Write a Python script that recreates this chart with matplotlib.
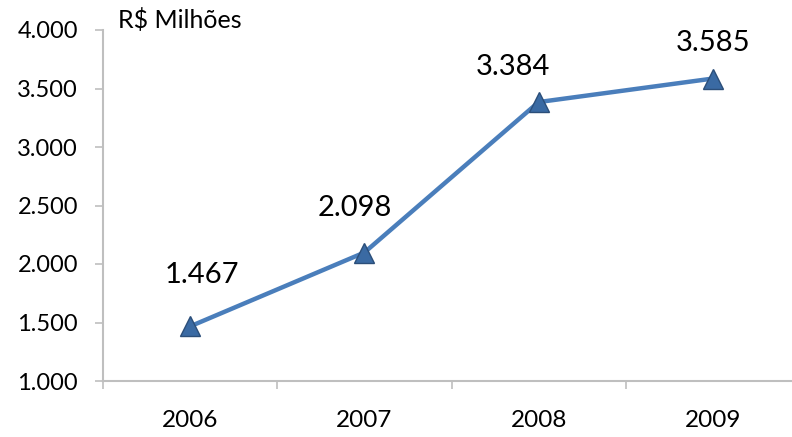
import matplotlib
matplotlib.use("Agg")
import matplotlib.pyplot as plt

years = ["2006", "2007", "2008", "2009"]
values = [1467, 2098, 3384, 3585]
value_labels = ["1.467", "2.098", "3.384", "3.585"]
y_ticks = [1000, 1500, 2000, 2500, 3000, 3500, 4000]
y_tick_labels = ["1.000", "1.500", "2.000", "2.500", "3.000", "3.500", "4.000"]

# label offsets (pixels) relative to each point
label_offsets = [(12, 51), (-10, 45), (-26, 35), (0, 36)]

plt.rcParams['font.family'] = ['Lato', 'DejaVu Sans']

fig = plt.figure(figsize=(7.92, 4.37), dpi=100)
ax = fig.add_axes([103 / 792, (437 - 381) / 437, 697 / 792, 351 / 437])

x = list(range(len(years)))
ax.plot(x, values, color="#4a7ebb", linewidth=3.2, zorder=2)
ax.plot(x, values, linestyle="none", marker="^", markersize=15,
        markerfacecolor="#3a6aa3", markeredgecolor="#2b4e79",
        markeredgewidth=1.0, zorder=3)

for xi, v, lab, (dx, dy) in zip(x, values, value_labels, label_offsets):
    ax.annotate(lab, (xi, v), xytext=(dx, dy), textcoords="offset pixels",
                ha="center", va="center", fontsize=21, color="black")

ax.set_xlim(-0.5, 3.5)
ax.set_ylim(1000, 4000)
ax.set_yticks(y_ticks)
ax.set_yticklabels(y_tick_labels, fontsize=17)
ax.set_xticks(x)
ax.set_xticklabels(years, fontsize=17.5)
ax.set_xticks([-0.5, 0.5, 1.5, 2.5, 3.5], minor=True)

ax.tick_params(axis="x", which="major", length=0, pad=21)
ax.tick_params(axis="x", which="minor", length=6, color="#bfbfbf", width=1.2)
ax.tick_params(axis="y", length=6, color="#bfbfbf", width=1.2, pad=12)

for side in ["top", "right"]:
    ax.spines[side].set_visible(False)
for side in ["left", "bottom"]:
    ax.spines[side].set_color("#bfbfbf")
    ax.spines[side].set_linewidth(1.5)

fig.text(118 / 792, 1 - 20 / 437, "R$ Milhões", fontsize=18, ha="left", va="center")

fig.savefig("out.png", dpi=100)
